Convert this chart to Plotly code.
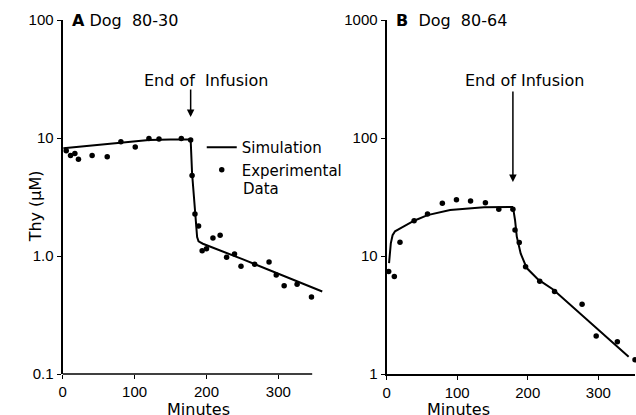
import plotly.graph_objects as go
import math

# ---- Data: Panel A (Dog 80-30) ----
a_exp_t = [5, 11, 17, 22, 41, 62, 81, 101, 120, 134, 165, 178, 180, 184, 189, 194, 200, 209,
           219, 228, 239, 248, 267, 287, 297, 308, 326, 346]
a_exp_v = [7.8, 7.1, 7.4, 6.6, 7.1, 6.95, 9.3, 8.4, 9.9, 9.8, 9.9, 9.6, 4.8, 2.27, 1.8, 1.11,
           1.15, 1.42, 1.50, 0.975, 1.04, 0.82, 0.85, 0.89, 0.69, 0.56, 0.575, 0.45]
a_sim_t = [1, 30, 60, 90, 120, 150, 178, 180, 182, 184, 185.5, 187, 189, 195, 250, 300, 361]
a_sim_v = [8.2, 8.5, 8.85, 9.2, 9.6, 9.7, 9.7, 5.0, 3.6, 2.6, 1.8, 1.45, 1.33, 1.27, 0.94, 0.71, 0.50]

# ---- Data: Panel B (Dog 80-64) ----
b_exp_t = [3, 11, 19, 39, 58, 79, 99, 119, 140, 159, 179, 182, 188, 197, 217, 238, 277, 297, 327, 352]
b_exp_v = [7.4, 6.7, 13.1, 19.9, 22.7, 28, 29.9, 29.2, 28.3, 24.9, 24.9, 16.6, 13.0, 8.1, 6.1,
           5.0, 3.9, 2.1, 1.88, 1.32]
b_sim_t = [3.5, 4.5, 6, 8.5, 12, 20, 39, 58, 90, 138, 178, 180, 182, 184.5, 190, 198.6, 215, 236, 343]
b_sim_v = [8.7, 10.5, 12.8, 15, 16.2, 17.2, 19.9, 22.2, 24.5, 25.9, 26, 24, 20.2, 14.6, 10.5,
           7.9, 6.3, 5.2, 1.40]

a_ticks = [0.1, 1, 10, 100]
a_ticktext = ["0.1", "1.0", "10", "100"]
b_ticks = [1, 10, 100, 1000]
b_ticktext = ["1", "10", "100", "1000"]
x_ticks = [0, 100, 200, 300]

W, H = 636, 415
FONT = "DejaVu Sans"
TICKFONT = dict(family="Liberation Sans", size=15, color="black")

fig = go.Figure()
fig.add_trace(go.Scatter(x=a_sim_t, y=a_sim_v, mode="lines", line=dict(color="black", width=2),
                         name="Simulation", xaxis="x", yaxis="y"))
fig.add_trace(go.Scatter(x=a_exp_t, y=a_exp_v, mode="markers", marker=dict(color="black", size=5.5),
                         name="Experimental", xaxis="x", yaxis="y"))
fig.add_trace(go.Scatter(x=b_sim_t, y=b_sim_v, mode="lines", line=dict(color="black", width=2),
                         showlegend=False, xaxis="x2", yaxis="y2", cliponaxis=False))
fig.add_trace(go.Scatter(x=b_exp_t, y=b_exp_v, mode="markers", marker=dict(color="black", size=5.5),
                         showlegend=False, xaxis="x2", yaxis="y2", cliponaxis=False))

axis_common = dict(showgrid=False, zeroline=False, ticks="outside", ticklen=4,
                   tickcolor="black", tickwidth=1.2, tickfont=TICKFONT, color="black")

fig.update_layout(
    width=W, height=H,
    margin=dict(l=0, r=0, t=20, b=41),
    paper_bgcolor="white", plot_bgcolor="white",
    font=dict(family=FONT, size=16, color="black"),
    xaxis=dict(domain=[59 / W, 321 / W], range=[0, 362], tickvals=x_ticks, showline=False,
               anchor="y", **axis_common),
    yaxis=dict(domain=[0, 1], type="log", range=[-1, 2], tickvals=a_ticks, ticktext=a_ticktext,
               showline=True, linecolor="black", linewidth=2, anchor="x", **axis_common),
    xaxis2=dict(domain=[385 / W, 635 / W], range=[0, 352], tickvals=x_ticks, showline=True,
                linecolor="black", linewidth=1.5, anchor="y2", **axis_common),
    yaxis2=dict(domain=[0, 1], type="log", range=[0, 3], tickvals=b_ticks, ticktext=b_ticktext,
                showline=True, linecolor="black", linewidth=2, anchor="x2", **axis_common),
    showlegend=True,
    legend=dict(x=199 / W, xanchor="left", y=(374 - 131) / 354, yanchor="top",
                bgcolor="rgba(0,0,0,0)", font=dict(family=FONT, size=15, color="black"),
                tracegroupgap=0, itemwidth=30),
)

# Left x axis line stops short of the plotted line
fig.add_shape(type="line", xref="x", yref="y domain", x0=0, x1=347, y0=0, y1=0,
              line=dict(color="black", width=1.5))

# Second line of the legend label
fig.add_annotation(xref="paper", yref="paper", x=239 / W, y=(374 - 189) / 354, xanchor="left",
                   yanchor="middle", text="Data", showarrow=False, font=dict(size=15))

# Panel titles
fig.add_annotation(xref="paper", yref="paper", x=66 / W, y=1, xanchor="left", yanchor="middle",
                   text="<b>A</b> Dog  80-30", showarrow=False, font=dict(size=16))
fig.add_annotation(xref="paper", yref="paper", x=392 / W, y=1, xanchor="left", yanchor="middle",
                   text="<b>B</b>  Dog  80-64", showarrow=False, font=dict(size=16))

# End of infusion arrows and labels
fig.add_annotation(xref="x", yref="y", x=178, y=math.log10(15.1), ax=0, ay=-29, text="",
                   showarrow=True, arrowhead=2, arrowsize=1, arrowwidth=1.5, arrowcolor="black")
fig.add_annotation(xref="x", yref="y", x=199, y=math.log10(31), text="End of  Infusion",
                   showarrow=False, font=dict(size=16))
fig.add_annotation(xref="x2", yref="y2", x=179, y=math.log10(42.4), ax=0, ay=-92, text="",
                   showarrow=True, arrowhead=2, arrowsize=1, arrowwidth=1.5, arrowcolor="black")
fig.add_annotation(xref="x2", yref="y2", x=196, y=math.log10(309), text="End of Infusion",
                   showarrow=False, font=dict(size=16))

# Axis titles
fig.add_annotation(xref="paper", yref="paper", x=21 / W, y=(374 - 206) / 354, text="Thy (\u03bcM)",
                   textangle=-90, showarrow=False, font=dict(size=16))
fig.add_annotation(xref="paper", yref="paper", x=162 / W, y=(374 - 409) / 354, text="Minutes",
                   showarrow=False, font=dict(size=16), yanchor="middle")
fig.add_annotation(xref="paper", yref="paper", x=491 / W, y=(374 - 409) / 354, text="Minutes",
                   showarrow=False, font=dict(size=16), yanchor="middle")

fig.write_html("out.html")
